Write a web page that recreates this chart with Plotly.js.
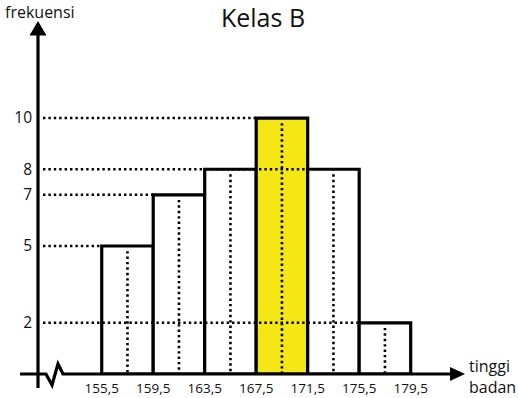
<!DOCTYPE html>
<html>
<head>
<meta charset="utf-8">
<script src="https://cdn.plot.ly/plotly-3.0.1.min.js"></script>
<style>html,body{margin:0;padding:0;background:#fff;}#chart{width:518px;height:398px;}</style>
</head>
<body>
<div id="chart"></div>
<script>
// ---- data ----
var classEdges = [155.5, 159.5, 163.5, 167.5, 171.5, 175.5, 179.5];
var edgeLabels = ["155,5", "159,5", "163,5", "167,5", "171,5", "175,5", "179,5"];
var frequencies = [5, 7, 8, 10, 8, 2];
var highlightIndex = 3;
var chartTitle = "Kelas B";
var yAxisLabel = "frekuensi";
var xAxisLabel = "tinggi<br>badan";

// ---- derived ----
var mids = [], widths = [], colors = [];
for (var i = 0; i < frequencies.length; i++) {
  mids.push((classEdges[i] + classEdges[i + 1]) / 2);
  widths.push(classEdges[i + 1] - classEdges[i]);
  colors.push(i === highlightIndex ? "#F5E713" : "#ffffff");
}

// layout geometry (pixels)
var W = 518, H = 398;
var L = 38, R = 465, T = 20, B = 374;
var xRange = [150.55, 183.72];
var yRange = [0, 13.83];
var xStart = xRange[0] + (xRange[1] - xRange[0]) * 5 / (R - L);

// horizontal dotted guide lines: from axis to left edge of the last bar having that value
var hx = [], hy = [];
var uniq = frequencies.slice().filter(function (v, i, a) { return a.indexOf(v) === i; }).sort(function (a, b) { return a - b; });
uniq.forEach(function (v) {
  var last = frequencies.lastIndexOf(v);
  hx.push(xStart, classEdges[last], null);
  hy.push(v, v, null);
});
// vertical dotted lines at class midpoints
var vx = [], vy = [];
for (var j = 0; j < frequencies.length; j++) {
  vx.push(mids[j], mids[j], null);
  vy.push(frequencies[j] - 0.2, 0, null);
}

var dotLine = { color: "#000", width: 2.6, dash: "2.4px,3px" };

var traces = [
  {
    type: "bar", x: mids, y: frequencies, width: widths,
    marker: { color: colors, line: { color: "#000", width: 3.2 } },
    hoverinfo: "skip"
  },
  { type: "scatter", mode: "lines", x: hx, y: hy, line: dotLine, hoverinfo: "skip", connectgaps: false },
  { type: "scatter", mode: "lines", x: vx, y: vy, line: dotLine, hoverinfo: "skip", connectgaps: false }
];

function px(x) { return (x - L) / (R - L); }
function py(y) { return (B - y) / (B - T); }
function path(pts) {
  return pts.map(function (p, k) { return (k ? "L" : "M") + px(p[0]) + "," + py(p[1]); }).join(" ");
}

var shapes = [
  // y axis
  { type: "line", xref: "paper", yref: "paper", x0: px(38), x1: px(38), y0: py(388), y1: py(34), line: { color: "#000", width: 3.2 } },
  // y arrow head
  { type: "path", xref: "paper", yref: "paper", path: path([[29.5, 35.5], [46.5, 35.5], [38, 21]]) + " Z", fillcolor: "#000", line: { color: "#000", width: 0 } },
  // x axis with break
  { type: "path", xref: "paper", yref: "paper", path: path([[20, 374], [46, 374], [52, 385], [58, 364], [63, 374], [451, 374]]), line: { color: "#000", width: 3.2 } },
  // x arrow head
  { type: "path", xref: "paper", yref: "paper", path: path([[450, 367], [450, 381], [465, 374]]) + " Z", fillcolor: "#000", line: { color: "#000", width: 0 } }
];

var font = "'Open Sans', 'Noto Sans', sans-serif";

var layout = {
  width: W, height: H,
  margin: { l: L, r: W - R, t: T, b: H - B, pad: 0 },
  paper_bgcolor: "#fff", plot_bgcolor: "rgba(0,0,0,0)",
  showlegend: false,
  font: { family: font, color: "#111" },
  title: { text: chartTitle, x: 263 / W, xanchor: "center", xref: "container", yref: "container", y: 1 - 18 / H, yanchor: "middle", font: { size: 25, family: font, color: "#111" } },
  xaxis: {
    range: xRange, showgrid: false, zeroline: false, showline: false,
    tickmode: "array", tickvals: classEdges, ticktext: edgeLabels,
    ticks: "", ticklabelstandoff: 4,
    tickfont: { size: 13.5, family: font, color: "#111" }, fixedrange: true
  },
  yaxis: {
    range: yRange, showgrid: false, zeroline: false, showline: false,
    tickmode: "array", tickvals: uniq, ticktext: uniq.map(String),
    ticks: "", ticklabelstandoff: 5,
    tickfont: { size: 15.5, family: font, color: "#111" }, fixedrange: true
  },
  shapes: shapes,
  annotations: [
    { text: yAxisLabel, xref: "paper", yref: "paper", x: px(3), y: py(12), xanchor: "left", yanchor: "middle", showarrow: false, font: { size: 16, family: font, color: "#111" } },
    { text: xAxisLabel, xref: "paper", yref: "paper", x: px(467), y: py(376), xanchor: "left", yanchor: "middle", align: "left", showarrow: false, font: { size: 16, family: font, color: "#111" } }
  ]
};

Plotly.newPlot("chart", traces, layout, { displayModeBar: false, staticPlot: true });
</script>
</body>
</html>
